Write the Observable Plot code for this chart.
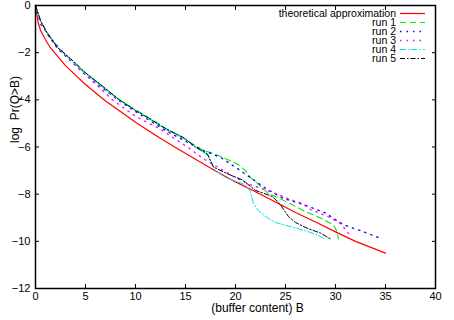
<!DOCTYPE html>
<html>
<head>
<meta charset="utf-8">
<script src="https://cdn.jsdelivr.net/npm/d3@7"></script>
<script src="https://cdn.jsdelivr.net/npm/@observablehq/plot@0.6"></script>
<style>
  html, body { margin: 0; padding: 0; background: #fff; }
  svg { font-family: "Liberation Sans", Arial, sans-serif; }
</style>
</head>
<body>
<div id="chart"></div>
<script>
// ---- data ----
const seriesNames = ["theoretical approximation", "run 1", "run 2", "run 3", "run 4", "run 5"];
const xTicks = [0, 5, 10, 15, 20, 25, 30, 35, 40];
const yTicks = [0, -2, -4, -6, -8, -10, -12];

const theoX = [0, 0.25, 0.5, 1, 1.5, 2, 3, 4, 5, 6, 7, 8, 10, 12, 14, 16, 18, 20, 22, 24, 26, 28, 30, 32, 35];
const theoY = [0, -0.7, -1.05, -1.45, -1.8, -2.05, -2.55, -2.95, -3.35, -3.7, -4.05, -4.35, -4.95, -5.5, -6.02, -6.52, -7.02, -7.48, -7.9, -8.33, -8.78, -9.18, -9.6, -10.0, -10.5];

const run1X = [0, 0.5, 1.2, 2.2, 3.5, 5, 6.5, 8.3, 10, 11.5, 13, 15, 16.8, 17.8, 19.3, 20.3, 21, 21.5, 22.2, 23.3, 24.5, 25.7, 26.8, 28.7, 29.8, 30.1, 30.3];
const run1Y = [0, -0.63, -1.17, -1.76, -2.28, -2.87, -3.37, -3.97, -4.42, -4.8, -5.2, -5.68, -6.15, -6.27, -6.55, -6.75, -7.0, -7.3, -7.55, -7.97, -8.2, -8.45, -8.7, -9.05, -9.3, -9.55, -9.9];

const run2X = [0, 0.5, 1.2, 2.2, 3.5, 5, 6.5, 8.3, 10, 11.5, 13, 15.2, 16.8, 18.5, 20, 21.5, 23, 24.8, 26.5, 27, 29, 30.8, 32.5, 34.7];
const run2Y = [0, -0.68, -1.22, -1.82, -2.34, -2.93, -3.43, -4.02, -4.5, -4.9, -5.3, -5.8, -6.15, -6.44, -6.86, -7.3, -7.75, -8.18, -8.4, -8.47, -8.8, -9.3, -9.55, -9.9];

const run3X = [0, 0.5, 1.5, 2.8, 4.5, 6.2, 7.7, 10, 12.5, 15.2, 16.8, 18.8, 20, 21.5, 24, 25.3, 26.7, 27.5, 29.5, 30.5, 31.2, 31.5];
const run3Y = [0, -0.8, -1.35, -2.03, -2.75, -3.4, -4.0, -4.7, -5.25, -6.0, -6.5, -7.0, -7.3, -7.6, -7.97, -8.2, -8.4, -8.65, -9.0, -9.25, -9.6, -9.8];

const run4X = [0, 0.5, 1.2, 2.2, 3.5, 5, 6.5, 8.3, 10, 11.5, 13, 14.8, 16, 17.2, 17.6, 18, 19, 21, 21.5, 21.8, 22.3, 23, 24, 25.7, 27, 28, 29];
const run4Y = [0, -0.65, -1.2, -1.78, -2.3, -2.9, -3.4, -4.0, -4.45, -4.85, -5.25, -5.62, -6.0, -6.35, -6.7, -7.0, -7.3, -7.6, -7.9, -8.4, -8.7, -8.95, -9.2, -9.4, -9.55, -9.7, -9.9];

const run5X = [0, 0.5, 1.2, 2.2, 3.5, 5, 6.5, 8.3, 10, 11.5, 13, 14.8, 16, 17.2, 17.8, 19, 20.7, 22, 23.7, 24.5, 25.3, 26, 27.2, 28.5, 29.5];
const run5Y = [0, -0.64, -1.19, -1.78, -2.25, -2.85, -3.35, -3.97, -4.45, -4.82, -5.22, -5.6, -6.0, -6.3, -6.85, -7.1, -7.4, -7.84, -8.1, -8.45, -8.95, -9.2, -9.45, -9.65, -9.9];

// ---- styles ----
const colors = ["#ff0000", "#00ee00", "#0000ff", "#ff00ff", "#00e5e5", "#000000"];
const dashes = [null, "6,4", "1.5,5", "1.5,5", "6,2,1.5,2", "5,2,1.5,2"];
const widths = [1.2, 1.1, 1.3, 1.3, 1, 1];

const xs = [theoX, run1X, run2X, run3X, run4X, run5X];
const ys = [theoY, run1Y, run2Y, run3Y, run4Y, run5Y];
const tables = xs.map((xa, i) => xa.map((x, j) => ({x, y: ys[i][j], name: seriesNames[i]})));

const W = 454, H = 320;
const marks = [];
tables.forEach((t, i) => {
  marks.push(Plot.line(t, {x: "x", y: "y", stroke: colors[i], strokeWidth: widths[i], strokeDasharray: dashes[i]}));
});
marks.push(
  Plot.frame({stroke: "#000", strokeWidth: 1.5}),
  Plot.axisX({anchor: "bottom", ticks: xTicks, tickSize: 0, tickPadding: 4, fontSize: 11, label: null}),
  Plot.axisX({anchor: "bottom", ticks: xTicks, tickSize: -4, tickFormat: () => "", label: null}),
  Plot.axisX({anchor: "top", ticks: xTicks, tickSize: -4, tickFormat: () => "", label: null}),
  Plot.axisY({anchor: "left", ticks: yTicks, tickSize: 0, tickPadding: 5, fontSize: 11, label: null}),
  Plot.axisY({anchor: "left", ticks: yTicks, tickSize: -4, tickFormat: () => "", label: null}),
  Plot.axisY({anchor: "right", ticks: yTicks, tickSize: -4, tickFormat: () => "", label: null}),
  Plot.text(["log  Pr(Q>B)"], {frameAnchor: "left", rotate: -90, dx: -20, dy: -4, fontSize: 12, fill: "#000"}),
  Plot.text(["(buffer content) B"], {frameAnchor: "bottom", lineAnchor: "middle", dx: 22, dy: 20, fontSize: 12, fill: "#000"})
);

const plot = Plot.plot({
  width: W,
  height: H,
  marginLeft: 35,
  marginRight: 19,
  marginTop: 5,
  marginBottom: 32,
  x: {domain: [0, 40]},
  y: {domain: [-12, 0]},
  style: {fontFamily: "'Liberation Sans', Arial, sans-serif", fontSize: "11px", color: "#000", background: "#fff"},
  marks
});

// legend inside the plot, upper right
const svg = d3.select(plot);
const lg = svg.append("g").attr("font-size", 10.5).attr("font-family", "'Liberation Sans', Arial, sans-serif");
seriesNames.forEach((name, i) => {
  const yc = 13.5 + i * 9;
  lg.append("text").attr("x", 396).attr("y", yc).attr("dy", "0.35em").attr("text-anchor", "end").attr("fill", "#000").text(name);
  lg.append("line").attr("x1", 400).attr("x2", 425).attr("y1", yc).attr("y2", yc)
    .attr("stroke", colors[i]).attr("stroke-width", widths[i])
    .attr("stroke-dasharray", dashes[i]);
});

document.getElementById("chart").appendChild(plot);
</script>
</body>
</html>
